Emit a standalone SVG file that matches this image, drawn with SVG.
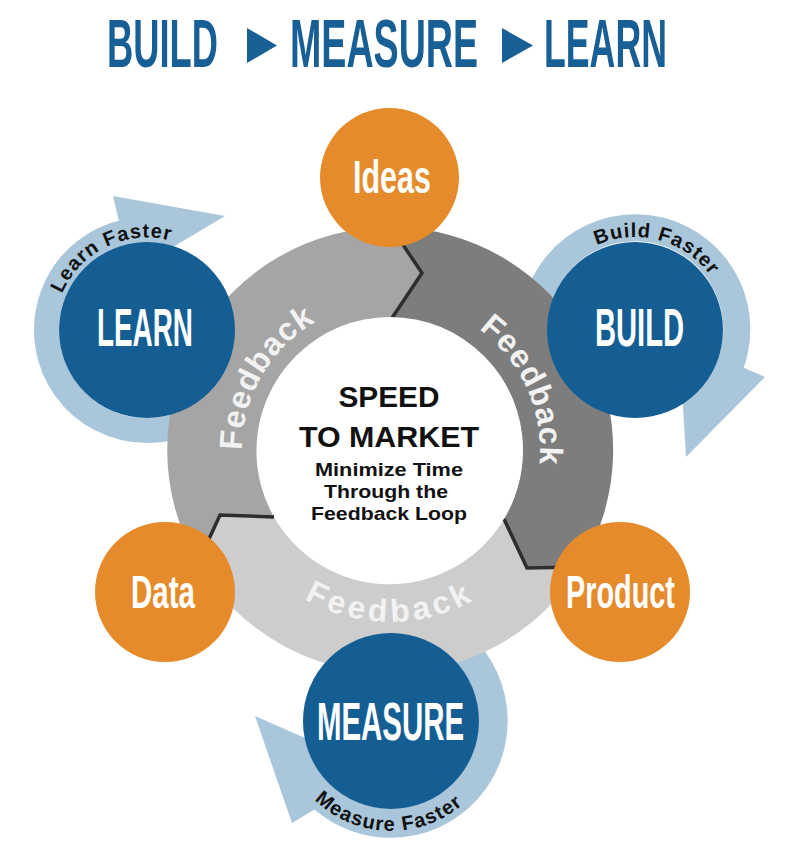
<svg xmlns="http://www.w3.org/2000/svg" width="800" height="864" viewBox="0 0 800 864">
<defs>
<style>
.title{font-family:'Liberation Sans',Arial,sans-serif;font-weight:bold;font-size:68px;fill:#175f95}
.blue{fill:#145e94}
.orange{fill:#e68b2c}
.lbl{font-family:'Liberation Sans',Arial,sans-serif;font-weight:bold;fill:#ffffff}
.fast{font-family:'Liberation Sans',Arial,sans-serif;font-weight:bold;font-size:20px;fill:#111111}
.fb{font-family:'Liberation Sans',Arial,sans-serif;font-weight:bold;font-size:32px;fill:#f2f2f2}
.hub{font-family:'Liberation Sans',Arial,sans-serif;font-weight:bold;fill:#111111;text-anchor:middle}
.loop{fill:none;stroke:#a9c6da}
.head{fill:#a9c6da}
.div{fill:none;stroke:#2e2e2e;stroke-width:3.5;stroke-linejoin:miter}
</style>
<path id="pLearnFast" d="M57.25,307.6 A92.5,92.5 0 0 1 184.6,245.5"/>
<path id="pBuildFast" d="M581.7,253.8 A93,93 0 0 1 719.3,290.7"/>
<path id="pMeasureFast" d="M299.3,781.7 A110,110 0 0 0 479.4,786.4"/>
<path id="pFbLeft" d="M244.2,475.7 A148,148 0 0 1 339.4,310.9"/>
<path id="pFbRight" d="M455.8,315.2 A150,150 0 0 1 534.2,491.3"/>
<path id="pFbBottom" d="M268.4,571.6 A172,172 0 0 0 511.6,571.6"/>
</defs>
<rect width="800" height="864" fill="#ffffff"/>

<g id="title">
<text class="title" transform="translate(107,67) scale(0.534,1)">BUILD</text>
<polygon points="247,28 277,45.5 247,63" fill="#175f95"/>
<text class="title" transform="translate(290,67) scale(0.553,1)">MEASURE</text>
<polygon points="502,28 533,45.5 502,63" fill="#175f95"/>
<text class="title" transform="translate(544,67) scale(0.525,1)">LEARN</text>
</g>

<g id="connectors">
<path class="loop" stroke-width="25" d="M234,380.3 A100.5,100.5 0 1 1 126.1,231.7"/>
<polygon class="head" points="113,196 225,216 131,272"/>
<path class="loop" stroke-width="27" d="M540.1,364.5 A101.5,101.5 0 1 1 729.1,368"/>
<polygon class="head" points="765,377 686,457 679,340"/>
<path class="loop" stroke-width="29" d="M442.3,632.2 A102.5,102.5 0 1 1 322.4,797.2"/>
<polygon class="head" points="255,716 292,823 379.5,770.5"/>
</g>

<g id="feedback-loop">
<path id="seg-build-side" fill="#7d7d7d" d="M391,227 A223,223 0 0 1 580,567 L527,568 L504,519 A133,133 0 0 0 392,318 L422,273 Z"/>
<path id="seg-measure-side" fill="#cdcdcd" d="M580,567 A223,223 0 0 1 198,563 L220,515 L274,517 A133,133 0 0 0 504,519 L527,568 Z"/>
<path id="seg-learn-side" fill="#a5a5a5" d="M198,563 A223,223 0 0 1 391,227 L422,273 L392,318 A133,133 0 0 0 274,517 L220,515 Z"/>
<polyline class="div" points="391,227 422,273 392,318"/>
<polyline class="div" points="504,519 527,568 580,567"/>
<polyline class="div" points="274,517 220,515 198,563"/>
<text class="fb" letter-spacing="1"><textPath href="#pFbLeft" startOffset="50%" text-anchor="middle">Feedback</textPath></text>
<text class="fb" letter-spacing="1"><textPath href="#pFbRight" startOffset="50%" text-anchor="middle">Feedback</textPath></text>
<text class="fb" letter-spacing="4" fill="#f6f6f6"><textPath href="#pFbBottom" startOffset="50%" text-anchor="middle">Feedback</textPath></text>
</g>

<g id="hub">
<circle cx="390" cy="450" r="133" fill="#ffffff"/>
<text class="hub" x="389" y="407" font-size="29" textLength="101" lengthAdjust="spacingAndGlyphs">SPEED</text>
<text class="hub" x="389" y="447" font-size="29" textLength="180" lengthAdjust="spacingAndGlyphs">TO MARKET</text>
<text class="hub" x="389" y="476" font-size="19" textLength="148" lengthAdjust="spacingAndGlyphs">Minimize Time</text>
<text class="hub" x="386" y="498" font-size="19" textLength="124" lengthAdjust="spacingAndGlyphs">Through the</text>
<text class="hub" x="389" y="520" font-size="19" textLength="156" lengthAdjust="spacingAndGlyphs">Feedback Loop</text>
</g>

<g id="node-ideas">
<circle class="orange" cx="389.5" cy="177.5" r="69.5"/>
<text class="lbl" font-size="46" transform="translate(353,193) scale(0.663,1)">Ideas</text>
</g>

<g id="node-data">
<circle class="orange" cx="165" cy="592" r="70"/>
<text class="lbl" font-size="46" transform="translate(131,607.5) scale(0.642,1)">Data</text>
</g>

<g id="node-product">
<circle class="orange" cx="620" cy="592" r="70"/>
<text class="lbl" font-size="46" transform="translate(566,607.5) scale(0.627,1)">Product</text>
</g>

<g id="node-learn">
<circle class="blue" cx="147" cy="330" r="88"/>
<text class="lbl" font-size="53" transform="translate(97,346) scale(0.526,1)">LEARN</text>
<text class="fast" letter-spacing="1"><textPath href="#pLearnFast" startOffset="50%" text-anchor="middle">Learn Faster</textPath></text>
</g>

<g id="node-build">
<circle class="blue" cx="635" cy="330" r="88"/>
<text class="lbl" font-size="53" transform="translate(595,346) scale(0.55,1)">BUILD</text>
<text class="fast" letter-spacing="1"><textPath href="#pBuildFast" startOffset="50%" text-anchor="middle">Build Faster</textPath></text>
</g>

<g id="node-measure">
<circle class="blue" cx="391" cy="721" r="88"/>
<text class="lbl" font-size="53" transform="translate(317,740) scale(0.555,1)">MEASURE</text>
<text class="fast" letter-spacing="1.2"><textPath href="#pMeasureFast" startOffset="50%" text-anchor="middle">Measure Faster</textPath></text>
</g>
</svg>
